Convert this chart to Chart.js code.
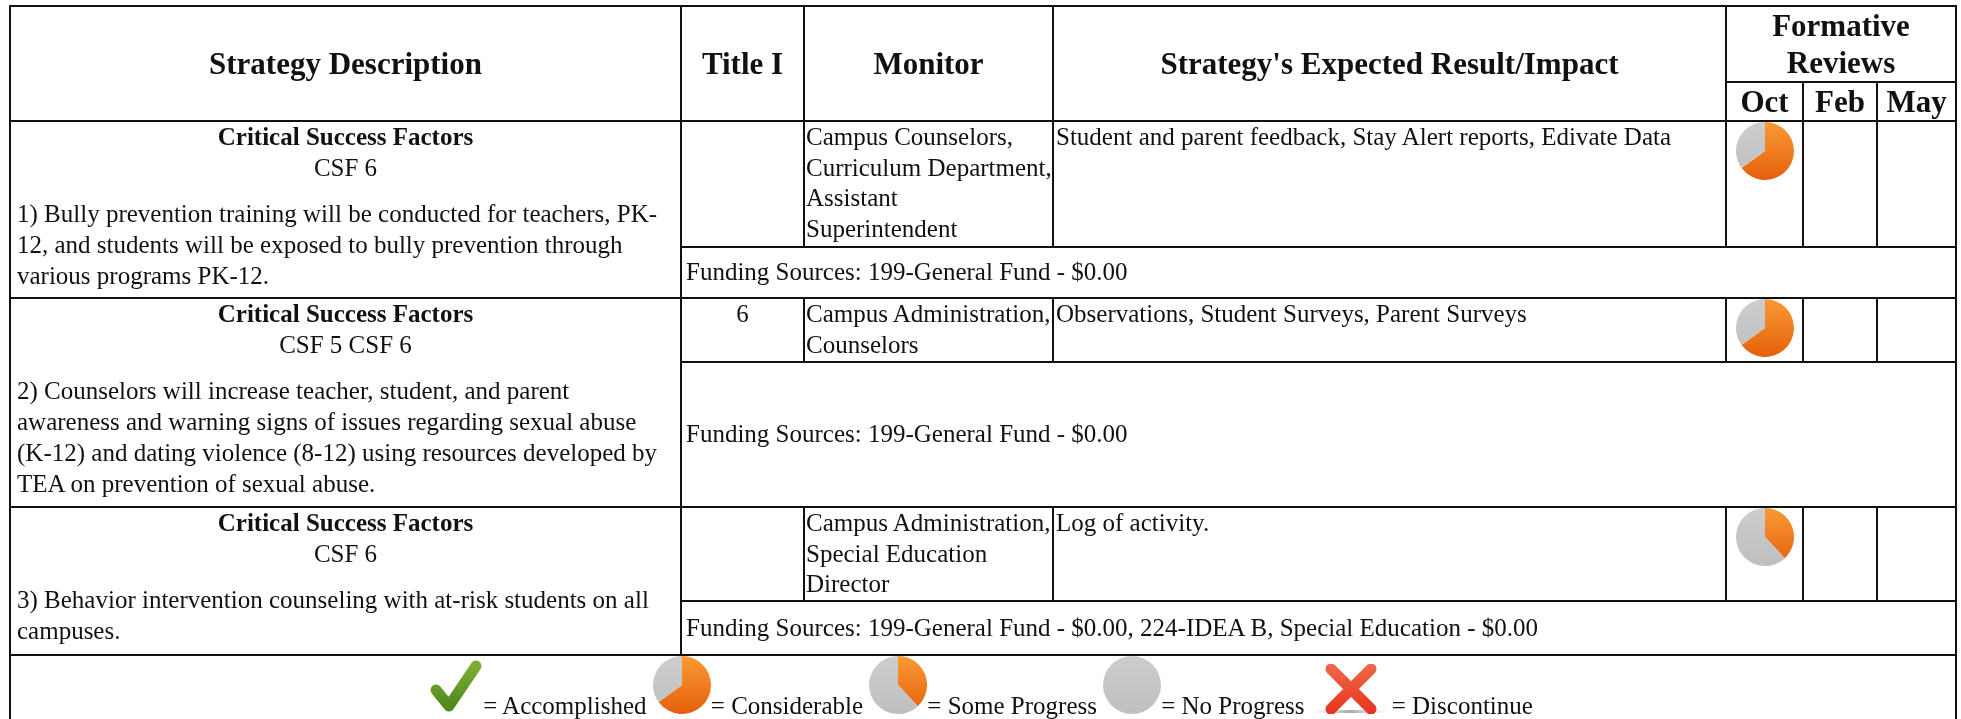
<!DOCTYPE html>
<html>
<head>
<title>Formative Reviews</title>
<style>
html, body { margin:0; padding:0; width:1961px; height:719px; overflow:hidden; background:#fff; }
body { font-family:"Liberation Serif", serif; font-size:25px; line-height:30.7px; color:#111; }
table { position:absolute; left:9px; top:5px; width:1946px; border-collapse:collapse; table-layout:fixed; filter:blur(.35px); }
td, th { border:2px solid #111; padding:0; vertical-align:top; }
th { font-size:31px; line-height:37px; vertical-align:middle; font-weight:bold; }
.desc { text-align:center; }
.desc p { margin:16px 0 0 0; padding-left:6px; text-align:left; white-space:nowrap; }
.monitor { padding-left:1px; white-space:nowrap; }
.impact { padding-left:2px; }
.fund { padding-left:4px; vertical-align:middle; }
.mid { text-align:center; }
.pie { width:58px; height:58px; margin:0 auto; }
.pie canvas, .ic canvas { filter:blur(.4px); }
.key { text-align:center; white-space:nowrap; }
.key span { display:inline-block; }
.key .ic { width:58px; height:58px; }
.key svg { display:block; }
</style>
</head>
<body>
<table>
<colgroup>
<col style="width:671px"><col style="width:123px"><col style="width:249px"><col style="width:673px"><col style="width:77px"><col style="width:74px"><col style="width:79px">
</colgroup>
<tr style="height:75px">
  <th rowspan="2">Strategy Description</th><th rowspan="2">Title I</th><th rowspan="2">Monitor</th>
  <th rowspan="2">Strategy's Expected Result/Impact</th><th colspan="3">Formative<br>Reviews</th>
</tr>
<tr style="height:39px"><th>Oct</th><th>Feb</th><th>May</th></tr>

<tr style="height:126px">
  <td rowspan="2" class="desc"><b>Critical Success Factors</b><br>CSF 6
    <p>1) Bully prevention training will be conducted for teachers, PK-<br>12, and students will be exposed to bully prevention through<br>various programs PK-12.</p></td>
  <td class="mid"></td>
  <td class="monitor">Campus Counselors,<br>Curriculum Department,<br>Assistant<br>Superintendent</td>
  <td class="impact">Student and parent feedback, Stay Alert reports, Edivate Data</td>
  <td><div class="pie"><canvas id="oct1"></canvas></div></td><td></td><td></td>
</tr>
<tr style="height:51px"><td colspan="6" class="fund">Funding Sources: 199-General Fund - $0.00</td></tr>

<tr style="height:64px">
  <td rowspan="2" class="desc"><b>Critical Success Factors</b><br>CSF 5 CSF 6
    <p>2) Counselors will increase teacher, student, and parent<br>awareness and warning signs of issues regarding sexual abuse<br>(K-12) and dating violence (8-12) using resources developed by<br>TEA on prevention of sexual abuse.</p></td>
  <td class="mid">6</td>
  <td class="monitor">Campus Administration,<br>Counselors</td>
  <td class="impact">Observations, Student Surveys, Parent Surveys</td>
  <td><div class="pie"><canvas id="oct2"></canvas></div></td><td></td><td></td>
</tr>
<tr style="height:145px"><td colspan="6" class="fund">Funding Sources: 199-General Fund - $0.00</td></tr>

<tr style="height:93px">
  <td rowspan="2" class="desc"><b>Critical Success Factors</b><br>CSF 6
    <p>3) Behavior intervention counseling with at-risk students on all<br>campuses.</p></td>
  <td class="mid"></td>
  <td class="monitor">Campus Administration,<br>Special Education<br>Director</td>
  <td class="impact">Log of activity.</td>
  <td><div class="pie"><canvas id="oct3"></canvas></div></td><td></td><td></td>
</tr>
<tr style="height:54px"><td colspan="6" class="fund">Funding Sources: 199-General Fund - $0.00, 224-IDEA B, Special Education - $0.00</td></tr>

<tr style="height:70px">
  <td colspan="7" class="key">
    <span style="margin-left:-4px"><svg width="54" height="54" viewBox="0 0 54 54">
      <defs><linearGradient id="gr" x1="0" y1="0" x2="0" y2="1"><stop offset="0" stop-color="#7cae33"/><stop offset="1" stop-color="#4f8a1c"/></linearGradient></defs>
      <path d="M7 30 L20 46 L47 6" fill="none" stroke="url(#gr)" stroke-width="11" stroke-linecap="round" stroke-linejoin="round"/>
    </svg></span>= Accomplished <span class="ic"><canvas id="keyConsiderable"></canvas></span>= Considerable <span class="ic"><canvas id="keySome"></canvas></span>= Some Progress <span class="ic"><canvas id="keyNone"></canvas></span>= No Progress <span><svg width="81" height="50" viewBox="0 0 81 50">
      <defs>
        <linearGradient id="rd" gradientUnits="userSpaceOnUse" x1="0" y1="0" x2="0" y2="50"><stop offset="0" stop-color="#ee6a48"/><stop offset="1" stop-color="#e8321f"/></linearGradient>
        <linearGradient id="sh" x1="0" y1="0" x2="1" y2="0"><stop offset="0" stop-color="#ccc" stop-opacity="0"/><stop offset=".5" stop-color="#aaa"/><stop offset="1" stop-color="#ccc" stop-opacity="0"/></linearGradient>
      </defs>
      <rect x="0" y="46" width="78" height="3" fill="url(#sh)"/>
      <path d="M20 5 L60 45 M60 5 L20 45" fill="none" stroke="url(#rd)" stroke-width="11" stroke-linecap="round"/>
    </svg></span>= Discontinue
  </td>
</tr>
</table>

<script src="https://cdn.jsdelivr.net/npm/chart.js@4/dist/chart.umd.js"></script>
<script>
const sliceLabels = ['Done', 'Remaining'];
const considerable = [65, 35];
const someProgress = [38, 62];
const noProgress = [0, 100];

function sliceFill(context) {
  let chart = context.chart;
  let area = chart.chartArea;
  if (!area) return '#ccc';
  let g = chart.ctx.createLinearGradient(0, area.top, 0, area.bottom);
  if (context.dataIndex == 0) {
    g.addColorStop(0, '#fb9a35');
    g.addColorStop(1, '#e4600a');
  } else {
    g.addColorStop(0, '#cdcdcd');
    g.addColorStop(1, '#bfbfbf');
  }
  return g;
}

function drawPie(id, values) {
  let ctx = document.getElementById(id).getContext('2d');
  new Chart(ctx, {
    type: 'pie',
    data: {
      labels: sliceLabels,
      datasets: [{ data: values, backgroundColor: sliceFill, borderWidth: 0 }]
    },
    options: {
      responsive: false,
      animation: false,
      events: [],
      plugins: { legend: { display: false }, tooltip: { enabled: false } }
    }
  });
}

document.querySelectorAll('canvas').forEach(function(c) {
  c.width = 58;
  c.height = 58;
});

drawPie('oct1', considerable);
drawPie('oct2', considerable);
drawPie('oct3', someProgress);
drawPie('keyConsiderable', considerable);
drawPie('keySome', someProgress);
drawPie('keyNone', noProgress);
</script>
</body>
</html>
